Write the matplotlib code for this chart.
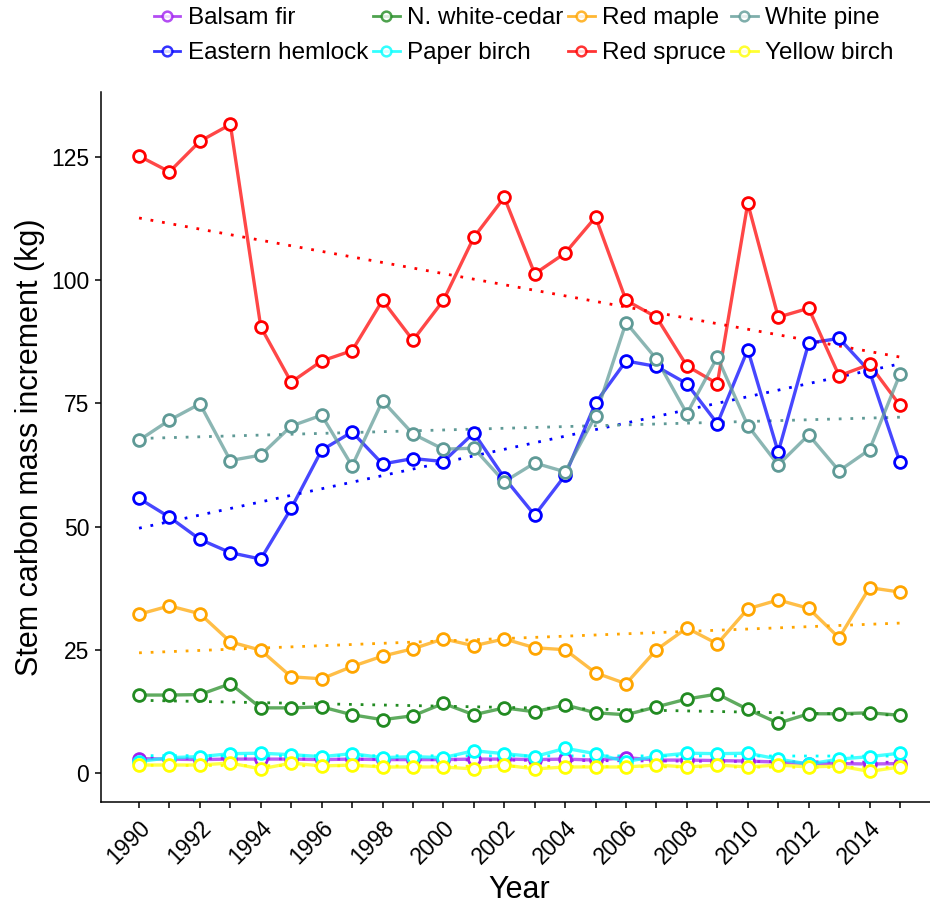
#!/usr/bin/env python3

import matplotlib as mpl
mpl.use("Agg")
import matplotlib.pyplot as plt
import numpy as np

plt.rcParams["font.family"] = ["Liberation Sans", "DejaVu Sans"]

years = np.arange(1990, 2016)

species = ["Balsam fir", "Eastern hemlock", "N. white-cedar", "Paper birch",
           "Red maple", "Red spruce", "White pine", "Yellow birch"]
colors = ["#A020F0", "#0000FF", "#228B22", "#00FFFF",
          "#FFA500", "#FF0000", "#5F9A96", "#FFFF00"]

# stem carbon mass increment per year (kg)
balsam_fir = [2.9, 2.8, 2.7, 2.8, 2.8, 2.8, 2.7, 2.8, 2.7, 2.7, 2.7, 2.8, 2.8,
              2.7, 2.8, 2.6, 3.1, 2.6, 2.6, 2.5, 2.4, 2.2, 1.9, 1.9, 1.8, 1.9]
eastern_hemlock = [55.7, 51.9, 47.4, 44.7, 43.4, 53.7, 65.5, 69.2, 62.7, 63.8, 63.2, 69.0, 59.9,
                   52.3, 60.4, 75.1, 83.6, 82.5, 79.0, 70.9, 85.9, 65.1, 87.2, 88.2, 81.5, 63.1]
white_cedar = [15.8, 15.8, 15.9, 18.1, 13.2, 13.2, 13.4, 11.8, 10.8, 11.6, 14.1, 11.8, 13.2,
               12.4, 13.8, 12.2, 11.8, 13.4, 15.0, 16.0, 12.9, 10.1, 12.0, 12.0, 12.2, 11.7]
paper_birch = [2.3, 3.1, 3.3, 3.9, 4.0, 3.7, 3.3, 3.9, 3.1, 3.3, 3.1, 4.5, 3.9,
               3.3, 5.0, 3.9, 2.3, 3.4, 4.0, 3.9, 4.0, 2.8, 1.8, 2.8, 3.3, 4.0]
red_maple = [32.2, 33.9, 32.3, 26.6, 24.9, 19.5, 19.1, 21.6, 23.7, 25.2, 27.2, 25.8, 27.2,
             25.4, 25.0, 20.3, 18.1, 25.0, 29.4, 26.2, 33.3, 35.1, 33.4, 27.4, 37.6, 36.7]
red_spruce = [125.2, 122.0, 128.2, 131.6, 90.5, 79.3, 83.6, 85.7, 95.9, 87.8, 95.9, 108.7, 116.8,
              101.3, 105.5, 112.8, 95.9, 92.5, 82.6, 79.0, 115.6, 92.5, 94.3, 80.6, 82.9, 74.6]
white_pine = [67.5, 71.6, 74.9, 63.4, 64.5, 70.4, 72.6, 62.3, 75.5, 68.8, 65.7, 65.9, 59.1,
              62.9, 61.1, 72.5, 91.4, 84.0, 72.9, 84.4, 70.5, 62.5, 68.6, 61.3, 65.6, 80.9]
yellow_birch = [1.6, 1.6, 1.6, 2.0, 0.8, 2.0, 1.4, 1.6, 1.2, 1.2, 1.2, 0.8, 1.6,
                0.8, 1.2, 1.2, 1.2, 1.6, 1.2, 1.6, 1.2, 1.6, 1.2, 1.4, 0.3, 1.2]

series = [balsam_fir, eastern_hemlock, white_cedar, paper_birch,
          red_maple, red_spruce, white_pine, yellow_birch]


def plotIncrement(ax):
	handles = []
	for name, color, values in zip(species, colors, series):
		values = np.asarray(values)
		# linear trend over the whole period
		slope, intercept = np.polyfit(years, values, 1)
		ax.plot(years, slope * years + intercept, color=color, lw=2.0,
		        linestyle=(0, (1, 3.2)), zorder=2)
		ax.plot(years, values, color=color, lw=2.4, alpha=0.72, zorder=3)
		ax.plot(years, values, linestyle="none", marker="o", markersize=8.5,
		        markerfacecolor="white", markeredgecolor=color, markeredgewidth=2.0,
		        zorder=4)
		h, = ax.plot([], [], color=color, lw=2.0, alpha=0.8, marker="o", markersize=7,
		             markerfacecolor="white", markeredgecolor=color, markeredgewidth=1.8,
		             label=name)
		handles.append(h)
	return handles


fig = plt.figure(figsize=(9.3, 9.07), dpi=100)
ax = fig.add_axes([0.1086, 0.1158, 0.9, 0.7828])

handles = plotIncrement(ax)

ax.set_xlim(1988.75, 2016.25)
ax.set_ylim(-5.9, 138.2)
ax.set_xticks(years)
ax.set_xticklabels([str(y) if y % 2 == 0 else "" for y in years],
                   rotation=45, ha="right", va="top", rotation_mode="anchor")
ax.set_yticks([0, 25, 50, 75, 100, 125])

for side in ["top", "right"]:
	ax.spines[side].set_visible(False)
for side in ["left", "bottom"]:
	ax.spines[side].set_linewidth(1.1)
ax.tick_params(axis="both", length=4.5, width=1.1, colors="black", labelsize=16.5, pad=4)
ax.tick_params(axis="x", pad=6)

ax.set_xlabel("Year", fontsize=22)
ax.set_ylabel("Stem carbon mass increment (kg)", fontsize=22)
ax.xaxis.set_label_coords(0.5, -0.103)
ax.yaxis.set_label_coords(-0.067, 0.5)

fig.legend(handles=handles, loc="upper center", bbox_to_anchor=(0.563, 1.003), ncol=4,
           frameon=False, fontsize=17.5, handlelength=1.1, handletextpad=0.3,
           columnspacing=0.2, labelspacing=0.55, borderaxespad=0.0)

fig.savefig("out.png", dpi=100)
plt.close(fig)
